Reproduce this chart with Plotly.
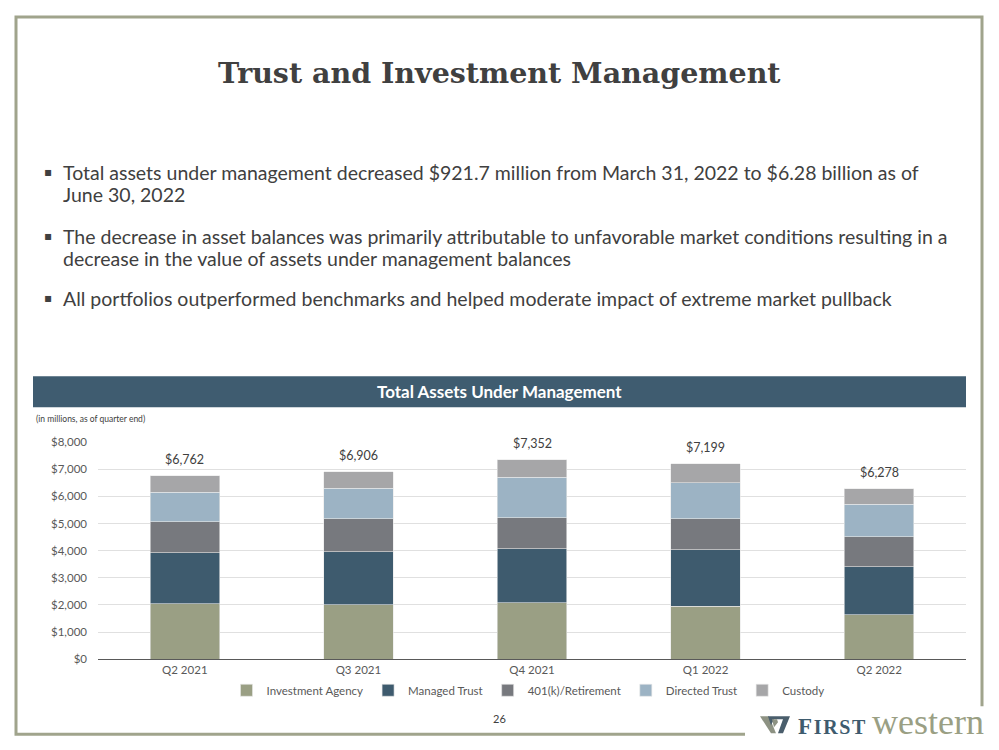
import plotly.graph_objects as go

# Empirical mapping of the page: screen_x = 8 + fig_x ; screen_y = 14 + 0.982 * fig_y
OFFX, OFFY, SY = 8, 14, 0.982
W, H = 991, 738

quarters = ["Q2 2021", "Q3 2021", "Q4 2021", "Q1 2022", "Q2 2022"]
investment_agency = [2050, 2015, 2075, 1955, 1645]
managed_trust = [1880, 1955, 2000, 2085, 1770]
retirement_401k = [1140, 1215, 1145, 1145, 1095]
directed_trust = [1080, 1115, 1485, 1315, 1205]
custody = [612, 606, 647, 699, 563]
totals = [6762, 6906, 7352, 7199, 6278]
total_labels = ["$6,762", "$6,906", "$7,352", "$7,199", "$6,278"]

series_names = ["Investment Agency", "Managed Trust", "401(k)/Retirement", "Directed Trust", "Custody"]
series_values = [investment_agency, managed_trust, retirement_401k, directed_trust, custody]
series_colors = ["#9a9f84", "#3e5b6e", "#77797e", "#9cb3c4", "#a6a6a8"]


def px(x):
    return (x - OFFX) / W


def py(y):
    return 1 - ((y - OFFY) / SY) / H


fig = go.Figure()
for name, vals, col in zip(series_names, series_values, series_colors):
    fig.add_trace(go.Bar(x=quarters, y=vals, name=name, marker_color=col,
                         marker_line_width=0.6, marker_line_color="#e8e8e8"))

annotations = []
for q, t, lab in zip(quarters, totals, total_labels):
    annotations.append(dict(x=q, y=t, xref="x", yref="y", text=lab, showarrow=False,
                            yanchor="bottom", yshift=7,
                            font=dict(family="Lato", size=12.5, color="#404040")))

# Title
annotations.append(dict(x=px(499.5), y=py(72), xref="paper", yref="paper",
                        text="<b>Trust and Investment Management</b>", showarrow=False,
                        xanchor="center", yanchor="middle",
                        font=dict(family="DejaVu Serif", size=28.5, color="#404040")))

bullets = [
    (171, "Total assets under management decreased $921.7 million from March 31, 2022 to $6.28 billion as of", True),
    (193, "June 30, 2022", False),
    (235, "The decrease in asset balances was primarily attributable to unfavorable market conditions resulting in a", True),
    (257, "decrease in the value of assets under management balances", False),
    (297, "All portfolios outperformed benchmarks and helped moderate impact of extreme market pullback", True),
]
for y, txt, has_bullet in bullets:
    annotations.append(dict(x=px(61), y=py(y), xref="paper", yref="paper", text=txt,
                            showarrow=False, xanchor="left", yanchor="middle",
                            font=dict(family="Lato", size=19.5, color="#404040")))
    if has_bullet:
        annotations.append(dict(x=px(48), y=py(y), xref="paper", yref="paper", text="▪",
                                showarrow=False, xanchor="center", yanchor="middle",
                                font=dict(family="DejaVu Sans", size=12, color="#404040")))

# Header bar text
annotations.append(dict(x=px(499.5), y=py(390.5), xref="paper", yref="paper",
                        text="<b>Total Assets Under Management</b>", showarrow=False,
                        xanchor="center", yanchor="middle",
                        font=dict(family="Lato", size=17, color="white")))
annotations.append(dict(x=px(34), y=py(418), xref="paper", yref="paper",
                        text="(in millions, as of quarter end)", showarrow=False,
                        xanchor="left", yanchor="middle",
                        font=dict(family="Lato", size=8.5, color="#404040")))
# Page number
annotations.append(dict(x=px(499), y=py(717), xref="paper", yref="paper", text="26",
                        showarrow=False, xanchor="center", yanchor="middle",
                        font=dict(family="Lato", size=11, color="#404040")))
# Logo text
annotations.append(dict(x=px(796), y=py(725), xref="paper", yref="paper",
                        text="<b>F<span style='font-size:20px'>\u200aI\u200aR\u200aS\u200aT</span></b>",
                        showarrow=False, xanchor="left", yanchor="middle",
                        font=dict(family="Liberation Serif", size=23, color="#3e5b6e")))
annotations.append(dict(x=px(870), y=py(721), xref="paper", yref="paper", text="western",
                        showarrow=False, xanchor="left", yanchor="middle",
                        font=dict(family="Liberation Serif", size=36, color="#9a9f84")))


def poly(points, color):
    path = "M " + " L ".join(f"{px(x):.5f},{py(y):.5f}" for x, y in points) + " Z"
    return dict(type="path", xref="paper", yref="paper", path=path,
                fillcolor=color, line=dict(width=0), layer="above")


shapes = [
    dict(type="rect", xref="paper", yref="paper", x0=px(16), x1=px(982), y0=py(733), y1=py(16),
         line=dict(color="#a0a48c", width=3), fillcolor="rgba(0,0,0,0)", layer="below"),
    dict(type="rect", xref="paper", yref="paper", x0=px(745), x1=px(999), y0=py(750), y1=py(705),
         line=dict(width=0), fillcolor="white", layer="below"),
    dict(type="rect", xref="paper", yref="paper", x0=px(33), x1=px(966), y0=py(406), y1=py(375),
         line=dict(width=0), fillcolor="#3f5c70", layer="below"),
    # logo icon (stylised W)
    poly([(760, 715), (769, 715), (776, 732), (771, 732)], "#8d9283"),
    poly([(768, 715), (790, 715), (783, 732), (778, 732), (783, 718), (774, 718), (771, 724)], "#4a5e6c"),
    poly([(772, 718), (777, 718), (778, 721), (774, 726)], "#8d9283"),
]

fig.update_layout(
    width=W, height=H,
    margin=dict(l=0, r=0, t=0, b=0),
    paper_bgcolor="white", plot_bgcolor="white",
    barmode="stack", bargap=0.6,
    showlegend=True,
    legend=dict(orientation="h", x=px(528), xanchor="center", y=py(689), yanchor="middle",
                font=dict(family="Lato", size=11.5, color="#595959"), traceorder="normal",
                itemwidth=30, bgcolor="rgba(0,0,0,0)"),
    xaxis=dict(domain=[px(98), px(966)], showgrid=False, showline=True,
               linecolor="#595959", linewidth=1.2, ticks="",
               tickfont=dict(family="Lato", size=11.5, color="#595959")),
    yaxis=dict(domain=[py(658), py(441)], range=[0, 8000], dtick=1000,
               tickprefix="$", tickformat=",", showgrid=True, gridcolor="#e0e0e0",
               gridwidth=1, zeroline=False, showline=False, ticks="", ticklabelstandoff=10,
               tickfont=dict(family="Lato", size=11.5, color="#595959")),
    annotations=annotations,
    shapes=shapes,
)

fig.write_html("out.html")
